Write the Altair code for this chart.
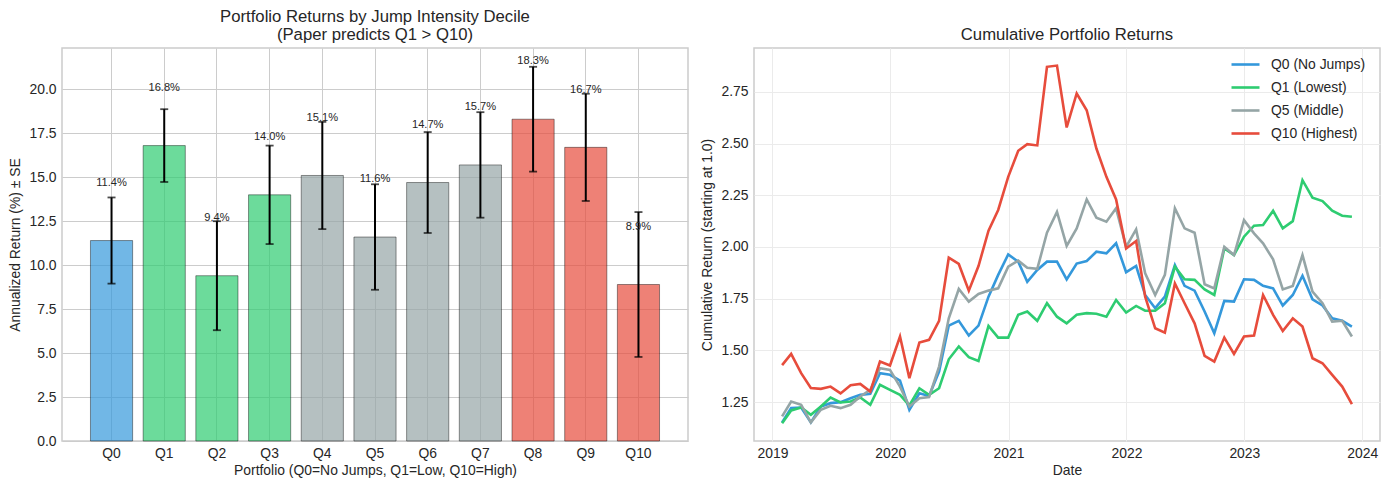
import altair as alt
import pandas as pd

FONT = "Liberation Sans"
TXT = "#262626"

# ---------------- left panel data ----------------
portfolios = ["Q0", "Q1", "Q2", "Q3", "Q4", "Q5", "Q6", "Q7", "Q8", "Q9", "Q10"]
ann_returns = [11.4, 16.8, 9.4, 14.0, 15.1, 11.6, 14.7, 15.7, 18.3, 16.7, 8.9]
std_errors = [2.45, 2.07, 3.10, 2.80, 3.05, 3.00, 2.87, 3.00, 2.98, 3.05, 4.12]
bar_colors = ["#3498db", "#2ecc71", "#2ecc71", "#2ecc71", "#95a5a6", "#95a5a6",
              "#95a5a6", "#95a5a6", "#e74c3c", "#e74c3c", "#e74c3c"]
y_ticks_left = [0, 2.5, 5, 7.5, 10, 12.5, 15, 17.5, 20]

# ---------------- right panel data ----------------
dates = pd.date_range("2019-01-01", periods=59, freq="MS") + pd.offsets.MonthEnd(0)
cum_q0 = [1.152, 1.221, 1.224, 1.152, 1.229, 1.245, 1.250, 1.269, 1.285, 1.290,
          1.390, 1.382, 1.354, 1.213, 1.293, 1.280, 1.398, 1.620, 1.643, 1.572,
          1.620, 1.760, 1.865, 1.964, 1.929, 1.832, 1.889, 1.929, 1.929, 1.843,
          1.920, 1.932, 1.977, 1.969, 2.018, 1.878, 1.908, 1.768, 1.704, 1.760,
          1.913, 1.812, 1.789, 1.688, 1.583, 1.739, 1.736, 1.844, 1.841, 1.812,
          1.800, 1.717, 1.768, 1.861, 1.747, 1.717, 1.655, 1.643, 1.615]
cum_q1 = [1.148, 1.210, 1.224, 1.189, 1.229, 1.272, 1.248, 1.253, 1.272, 1.237,
          1.334, 1.309, 1.285, 1.234, 1.317, 1.285, 1.317, 1.457, 1.519, 1.467,
          1.449, 1.618, 1.562, 1.562, 1.672, 1.688, 1.643, 1.728, 1.663, 1.631,
          1.672, 1.680, 1.677, 1.663, 1.744, 1.683, 1.715, 1.692, 1.692, 1.728,
          1.905, 1.844, 1.841, 1.795, 1.768, 1.993, 1.961, 2.050, 2.103, 2.106,
          2.175, 2.090, 2.125, 2.323, 2.238, 2.222, 2.175, 2.151, 2.146]
cum_q5 = [1.181, 1.253, 1.237, 1.152, 1.213, 1.232, 1.221, 1.237, 1.277, 1.309,
          1.414, 1.406, 1.325, 1.229, 1.269, 1.274, 1.422, 1.655, 1.797, 1.736,
          1.773, 1.789, 1.800, 1.905, 1.934, 1.900, 1.894, 2.069, 2.170, 2.005,
          2.090, 2.230, 2.142, 2.122, 2.187, 2.001, 2.085, 1.873, 1.768, 1.865,
          2.187, 2.090, 2.069, 1.820, 1.800, 2.001, 1.961, 2.130, 2.066, 2.018,
          1.940, 1.795, 1.812, 1.961, 1.784, 1.728, 1.639, 1.643, 1.567]
cum_q10 = [1.429, 1.483, 1.390, 1.318, 1.314, 1.325, 1.292, 1.332, 1.338, 1.301,
           1.446, 1.427, 1.567, 1.366, 1.538, 1.551, 1.643, 1.948, 1.918, 1.789,
           1.908, 2.079, 2.179, 2.339, 2.465, 2.497, 2.491, 2.871, 2.877, 2.578,
           2.742, 2.661, 2.476, 2.339, 2.230, 1.993, 2.029, 1.760, 1.607, 1.586,
           1.824, 1.728, 1.631, 1.474, 1.446, 1.562, 1.483, 1.567, 1.572, 1.768,
           1.672, 1.594, 1.655, 1.615, 1.462, 1.438, 1.382, 1.325, 1.240]
series_names = ["Q0 (No Jumps)", "Q1 (Lowest)", "Q5 (Middle)", "Q10 (Highest)"]
series_colors = ["#3498db", "#2ecc71", "#95a5a6", "#e74c3c"]
y_ticks_right = [1.25, 1.5, 1.75, 2.0, 2.25, 2.5, 2.75]
years = [2019, 2020, 2021, 2022, 2023, 2024]

# ---------------- left panel ----------------
df_bar = pd.DataFrame({"portfolio": portfolios, "ret": ann_returns,
                       "se": std_errors, "color": bar_colors})

base = alt.Chart(df_bar).transform_calculate(
    lo="datum.ret - datum.se",
    hi="datum.ret + datum.se",
    lab_y="datum.ret + 3",
    label="format(datum.ret, '.1f') + '%'",
)

x_axis = alt.Axis(labelAngle=0, title="Portfolio (Q0=No Jumps, Q1=Low, Q10=High)",
                  grid=True, gridColor="#cccccc", bandPosition=0.5, ticks=False,
                  domain=False, labelPadding=5, titlePadding=4)
x_scale = alt.Scale(paddingInner=0.2, paddingOuter=0.54)
y_axis = alt.Axis(values=y_ticks_left, format=".1f", title="Annualized Return (%) ± SE",
                  grid=True, gridColor="#cccccc", ticks=False, domain=False,
                  labelPadding=6, titlePadding=6)
y_scale = alt.Scale(domain=[0, 22.35], nice=False)


def lx():
    return alt.X("portfolio:N", sort=portfolios, scale=x_scale, axis=x_axis)


def ly(field):
    return alt.Y(field, scale=y_scale, axis=y_axis)


bars = base.mark_bar(fillOpacity=0.7, stroke="black", strokeWidth=0.6,
                     strokeOpacity=0.7).encode(
    x=lx(), y=ly("ret:Q"), fill=alt.Fill("color:N", scale=None))
err = base.mark_rule(color="black", strokeWidth=2).encode(
    x=lx(), y=ly("lo:Q"), y2="hi:Q")
cap_lo = base.mark_tick(color="black", thickness=1.8, size=8, orient="horizontal").encode(
    x=lx(), y=ly("lo:Q"))
cap_hi = base.mark_tick(color="black", thickness=1.8, size=8, orient="horizontal").encode(
    x=lx(), y=ly("hi:Q"))
labels = base.mark_text(fontSize=11.1, font=FONT, color=TXT, baseline="bottom").encode(
    x=lx(), y=ly("lab_y:Q"), text="label:N")

left = alt.layer(bars, err, cap_lo, cap_hi, labels).properties(
    width=626, height=393,
    title=alt.TitleParams(
        text=["Portfolio Returns by Jump Intensity Decile", "(Paper predicts Q1 > Q10)"],
        fontSize=16.7, font=FONT, fontWeight="normal", color=TXT,
        anchor="middle", offset=4, lineHeight=18.5),
)

# ---------------- right panel ----------------
rows = []
for name, vals in zip(series_names, [cum_q0, cum_q1, cum_q5, cum_q10]):
    for d, v in zip(dates, vals):
        rows.append({"date": d.strftime("%Y-%m-%d"), "series": name, "value": v})
df_cum = pd.DataFrame(rows)

right = alt.Chart(df_cum).mark_line(strokeWidth=2.6).encode(
    x=alt.X("date:T",
            scale=alt.Scale(domain=[alt.DateTime(year=2018, month=11, date=5),
                                    alt.DateTime(year=2024, month=2, date=25)], nice=False),
            axis=alt.Axis(values=[alt.DateTime(year=y, month=1, date=1) for y in years],
                          format="%Y", title="Date", grid=True, gridColor="#ebebeb",
                          ticks=False, domain=False, labelPadding=5, titlePadding=4)),
    y=alt.Y("value:Q",
            scale=alt.Scale(domain=[1.062, 2.962], nice=False, zero=False),
            axis=alt.Axis(values=y_ticks_right, format=".2f",
                          title="Cumulative Return (starting at 1.0)",
                          grid=True, gridColor="#ebebeb", ticks=False, domain=False,
                          labelPadding=6, titlePadding=6)),
    color=alt.Color("series:N", sort=series_names,
                    scale=alt.Scale(domain=series_names, range=series_colors),
                    legend=alt.Legend(title=None, orient="none", legendX=476, legendY=1,
                                      symbolType="stroke", symbolStrokeWidth=2.6,
                                      symbolSize=784, labelFontSize=13.9,
                                      labelFont=FONT, labelColor=TXT,
                                      rowPadding=-7, labelOffset=10)),
).properties(
    width=626, height=393,
    title=alt.TitleParams(text="Cumulative Portfolio Returns", fontSize=16.7, font=FONT,
                          fontWeight="normal", color=TXT, anchor="middle", offset=4),
)

chart = alt.hconcat(left, right, spacing=66, bounds="flush").resolve_scale(
    color="independent"
).resolve_legend(
    color="independent"
).properties(
    padding={"left": 0, "top": 0, "right": 0, "bottom": 0}
).configure_view(
    stroke="#cccccc", strokeWidth=1.5
).configure_axis(
    labelFont=FONT, titleFont=FONT, labelFontSize=13.9, titleFontSize=13.9,
    labelColor=TXT, titleColor=TXT, titleFontWeight="normal"
)

chart.save("out.html", embed_options={"renderer": "svg", "actions": False})
